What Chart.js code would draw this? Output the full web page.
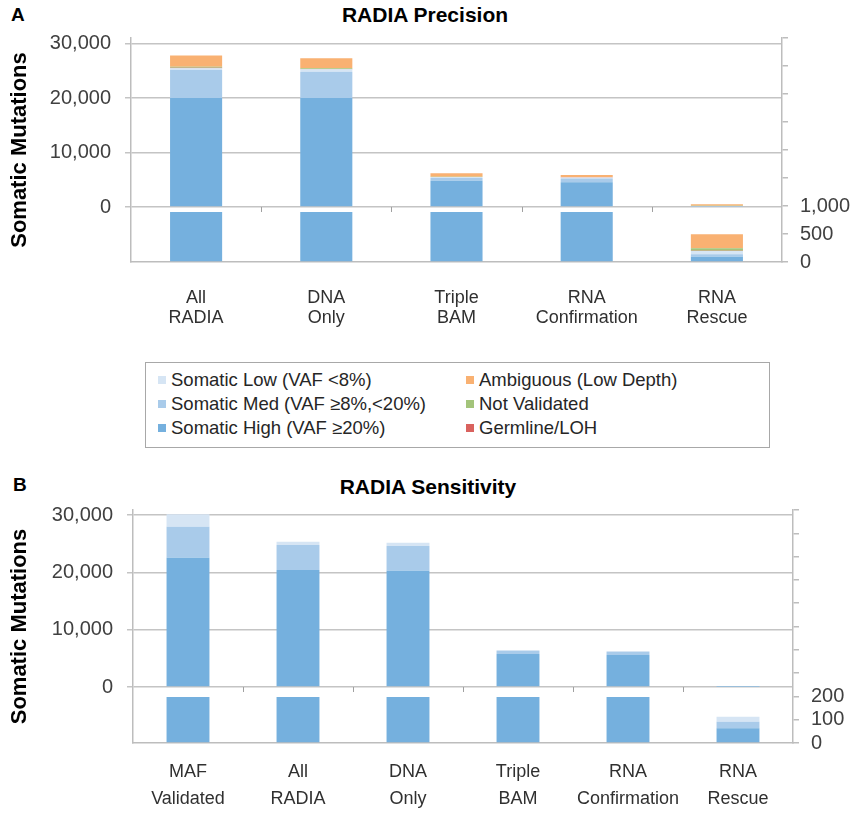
<!DOCTYPE html>
<html>
<head>
<meta charset="utf-8">
<script src="https://cdn.jsdelivr.net/npm/chart.js@4.4.1/dist/chart.umd.min.js"></script>
<style>
    body { margin: 0; background: #fff; font-family: "Liberation Sans", Arial, sans-serif; }
    #wrap { position: relative; width: 857px; height: 814px; overflow: hidden; }
    #wrap canvas { position: absolute; left: 0; }
    .panel { position: absolute; font-weight: bold; font-size: 19px; color: #000; }
    .title { position: absolute; font-weight: bold; font-size: 21px; color: #000; transform: translateX(-50%); white-space: nowrap; }
    #legend { position: absolute; left: 145px; top: 362px; width: 625px; height: 86px; border: 1.5px solid #a8a8a8; box-sizing: border-box; }
    .item { position: absolute; font-size: 18.5px; line-height: 22px; color: #262626; white-space: nowrap; }
    .item i { display: inline-block; width: 8px; height: 8px; margin-right: 5px; vertical-align: 2px; }
</style>
</head>
<body>
<div id="wrap">
    <div class="panel" style="left:11px;top:4px;">A</div>
    <div class="title" style="left:425px;top:3px;">RADIA Precision</div>
    <canvas id="precision" width="857" height="342" style="top:0;"></canvas>

    <div id="legend"></div>

    <div class="panel" style="left:13px;top:474px;">B</div>
    <div class="title" style="left:428px;top:475px;">RADIA Sensitivity</div>
    <canvas id="sensitivity" width="857" height="346" style="top:468px;"></canvas>
</div>
<script>
    // series (bottom of the stack first)
    var seriesNames = ['Somatic High (VAF ≥20%)', 'Somatic Med (VAF ≥8%,<20%)', 'Somatic Low (VAF <8%)',
        'Germline/LOH', 'Not Validated', 'Ambiguous (Low Depth)'];
    var seriesColors = ['#75b0de', '#a9cbea', '#d6e5f4', '#d9625e', '#a3c47a', '#f9b172'];

    // legend order, two columns
    var legendOrder = [2, 5, 1, 4, 0, 3];

    // A: RADIA Precision
    var precisionLabels = [['All', 'RADIA'], ['DNA', 'Only'], ['Triple', 'BAM'], ['RNA', 'Confirmation'], ['RNA', 'Rescue']];
    var precisionHigh = [20000, 20000, 4830, 4550, 95];
    var precisionMed = [5140, 4830, 500, 700, 42];
    var precisionLow = [310, 440, 170, 180, 59];
    var precisionGermline = [100, 60, 20, 15, 5];
    var precisionNotValidated = [190, 120, 40, 25, 44];
    var precisionAmbiguous = [2060, 1840, 620, 400, 250];

    // B: RADIA Sensitivity
    var sensitivityLabels = [['MAF', 'Validated'], ['All', 'RADIA'], ['DNA', 'Only'], ['Triple', 'BAM'], ['RNA', 'Confirmation'], ['RNA', 'Rescue']];
    var sensitivityHigh = [22550, 20400, 20290, 5760, 5580, 63];
    var sensitivityMed = [5410, 4370, 4300, 520, 530, 28];
    var sensitivityLow = [2160, 570, 580, 170, 170, 22];

    // tick values
    var leftTicks = [0, 10000, 20000, 30000];
    var precisionRightTicks = [0, 500, 1000, 1500, 2000, 2500, 3000, 3500, 4000];
    var precisionRightLabelled = [0, 500, 1000];
    var sensitivityRightTicks = [0, 100, 200, 300, 400, 500, 600, 700, 800, 900, 1000];
    var sensitivityRightLabelled = [0, 100, 200];

    var fontFamily = '"Liberation Sans", Arial, sans-serif';
    var axisGrey = '#bdbdbd';

    //legend
    var legendEl = document.getElementById('legend');
    legendOrder.forEach(function (s, i) {
        var col = i % 2, row = Math.floor(i / 2);
        var el = document.createElement('div');
        el.className = 'item';
        el.style.left = (col ? 320 : 12) + 'px';
        el.style.top = (6 + row * 24) + 'px';
        el.innerHTML = '<i style="background:' + seriesColors[s] + '"></i>';
        el.appendChild(document.createTextNode(seriesNames[s]));
        legendEl.appendChild(el);
    });

    // lower (zoomed) bars are clipped below the zero line of the upper axis
    var brokenAxis = {
        id: 'brokenAxis',
        beforeDatasetDraw: function (chart, args, opts) {
            if (args.meta.yAxisID !== 'yR') return;
            var a = chart.chartArea;
            var top = chart.scales.yL.getPixelForValue(0) + opts.gap;
            chart.ctx.save();
            chart.ctx.beginPath();
            chart.ctx.rect(a.left, top, a.right - a.left, a.bottom - top);
            chart.ctx.clip();
        },
        afterDatasetDraw: function (chart, args) {
            if (args.meta.yAxisID !== 'yR') return;
            chart.ctx.restore();
        },
        afterDatasetsDraw: function (chart) {
            var ctx = chart.ctx, x = chart.scales.x;
            var y0 = chart.scales.yL.getPixelForValue(0);
            ctx.save();
            ctx.strokeStyle = '#a0a0a0';
            ctx.lineWidth = 1;
            for (var i = 0; i < x.ticks.length - 1; i++) {
                var px = Math.round((x.getPixelForValue(i) + x.getPixelForValue(i + 1)) / 2) + 0.5;
                ctx.beginPath();
                ctx.moveTo(px, y0);
                ctx.lineTo(px, y0 + 5);
                ctx.stroke();
            }
            ctx.restore();
        }
    };

    function buildDatasets(values, barPct) {
        var sets = [];
        ['yL', 'yR'].forEach(function (axis) {
            values.forEach(function (v, i) {
                sets.push({
                    label: seriesNames[i],
                    data: v,
                    yAxisID: axis,
                    stack: 's',
                    backgroundColor: seriesColors[i],
                    borderWidth: 0,
                    barPercentage: barPct,
                    categoryPercentage: 1
                });
            });
        });
        return sets;
    }

    function makeChart(id, cfg) {
        return new Chart(document.getElementById(id), {
            type: 'bar',
            data: {
                labels: cfg.labels,
                datasets: buildDatasets(cfg.values, cfg.barPct)
            },
            options: {
                responsive: false,
                animation: false,
                layout: {padding: {top: cfg.top, left: 0, right: 0, bottom: 0}},
                plugins: {
                    legend: {display: false},
                    tooltip: {enabled: false},
                    brokenAxis: {gap: cfg.gap}
                },
                scales: {
                    x: {
                        stacked: true,
                        grid: {display: false, drawTicks: false},
                        border: {color: axisGrey, width: 1.5},
                        ticks: {
                            color: '#303030',
                            font: {family: fontFamily, size: 18, lineHeight: cfg.xLine},
                            padding: cfg.xPad,
                            maxRotation: 0,
                            autoSkip: false
                        },
                        afterFit: function (s) { s.height = cfg.xHeight; }
                    },
                    yL: {
                        position: 'left',
                        stacked: true,
                        min: cfg.leftMin,
                        max: cfg.leftMax,
                        afterBuildTicks: function (s) {
                            s.ticks = leftTicks.map(function (v) { return {value: v}; });
                        },
                        ticks: {
                            color: '#404040',
                            font: {family: fontFamily, size: 20},
                            padding: 14,
                            autoSkip: false,
                            callback: function (v) { return v.toLocaleString('en-US'); }
                        },
                        grid: {color: '#c4c4c4', lineWidth: 1.5, tickLength: 6},
                        border: {color: axisGrey, width: 1.5},
                        title: {
                            display: true,
                            text: 'Somatic Mutations',
                            color: '#000',
                            font: {family: fontFamily, size: 22, weight: 'bold'},
                            padding: {top: 7, bottom: 0}
                        },
                        afterFit: function (s) { s.width = cfg.leftWidth; }
                    },
                    yR: {
                        position: 'right',
                        stacked: true,
                        min: 0,
                        max: cfg.rightMax,
                        afterBuildTicks: function (s) {
                            s.ticks = cfg.rightTicks.map(function (v) { return {value: v}; });
                        },
                        ticks: {
                            color: '#404040',
                            font: {family: fontFamily, size: 20},
                            padding: cfg.rightPad,
                            autoSkip: false,
                            callback: function (v) {
                                return cfg.rightLabelled.indexOf(v) > -1 ? v.toLocaleString('en-US') : '';
                            }
                        },
                        grid: {drawOnChartArea: false, color: axisGrey, lineWidth: 1.5, tickLength: 6},
                        border: {color: axisGrey, width: 1.5},
                        afterFit: function (s) { s.width = cfg.rightWidth; }
                    }
                }
            },
            plugins: [brokenAxis]
        });
    }

    makeChart('precision', {
        labels: precisionLabels,
        values: [precisionHigh, precisionMed, precisionLow, precisionGermline, precisionNotValidated, precisionAmbiguous],
        leftMin: -10092,
        leftMax: 31009,
        rightMax: 4000,
        rightTicks: precisionRightTicks,
        rightLabelled: precisionRightLabelled,
        gap: 5,
        top: 38,
        leftWidth: 131,
        rightWidth: 75,
        rightPad: 12,
        xHeight: 80,
        xPad: 26,
        xLine: 1.1,
        barPct: 0.4
    });

    makeChart('sensitivity', {
        labels: sensitivityLabels,
        values: [sensitivityHigh, sensitivityMed, sensitivityLow],
        leftMin: -9767,
        leftMax: 30872,
        rightMax: 1000,
        rightTicks: sensitivityRightTicks,
        rightLabelled: sensitivityRightLabelled,
        gap: 10,
        top: 42,
        leftWidth: 133,
        rightWidth: 64,
        rightPad: 12,
        xHeight: 71,
        xPad: 16,
        xLine: 1.5,
        barPct: 0.39
    });
</script>
</body>
</html>
